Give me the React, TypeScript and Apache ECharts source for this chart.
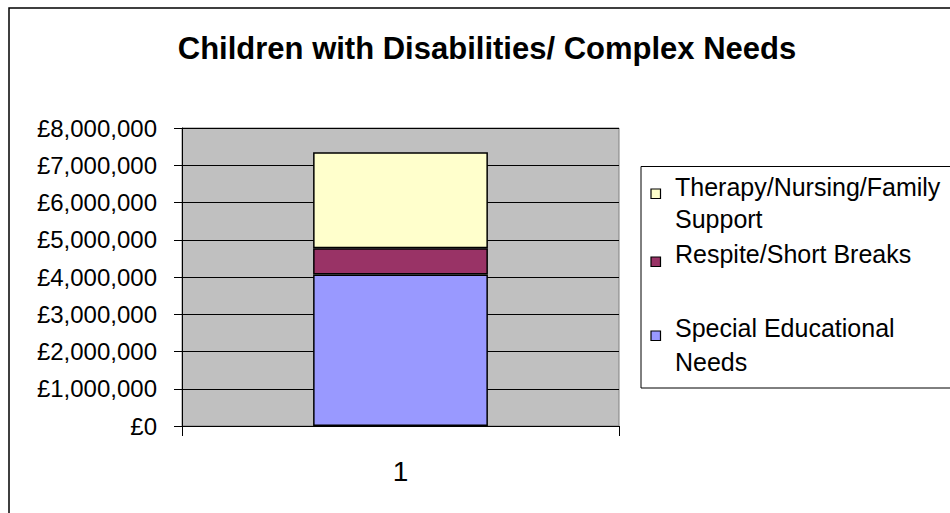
import React, { useEffect, useRef } from "react";
import * as echarts from "echarts";

// Budget split for the single category, stacked bottom to top
const categories = ["1"];
const seriesNames = [
  "Special Educational Needs",
  "Respite/Short Breaks",
  "Therapy/Nursing/Family Support",
];
const seriesValues = [[4070000], [700000], [2580000]];
const seriesColors = ["#9999FF", "#993366", "#FFFFCC"];

// Legend entries as wrapped lines, listed top to bottom (reverse of stacking)
const legendOrder = [2, 1, 0];
const legendLines = [
  ["Therapy/Nursing/Family", "Support"],
  ["Respite/Short Breaks"],
  ["Special Educational", "Needs"],
];

const yTicks = { min: 0, max: 8000000, interval: 1000000 };
const chartTitle = "Children with Disabilities/ Complex Needs";

const FONT = "'Liberation Sans', Arial, Helvetica, sans-serif";

export default function App() {
  const ref = useRef<HTMLDivElement>(null);

  useEffect(() => {
    if (!ref.current) return;
    const chart = echarts.init(ref.current, null, { renderer: "svg" });

    const legendIconY = [189, 257, 331];
    const legendTextY = [[187, 218.5], [253.5], [327.5, 361.5]];

    const legendChildren: any[] = [
      {
        type: "rect",
        shape: { x: 641, y: 166.5, width: 400, height: 221.5 },
        style: { fill: "#fff", stroke: "#000", lineWidth: 1 },
      },
    ];
    legendOrder.forEach((si, i) => {
      legendChildren.push({
        type: "rect",
        shape: { x: 651, y: legendIconY[i], width: 9.5, height: 9.5 },
        style: { fill: seriesColors[si], stroke: "#000", lineWidth: 1.2 },
      });
      legendLines[i].forEach((line, li) => {
        legendChildren.push({
          type: "text",
          x: 675,
          y: legendTextY[i][li],
          style: {
            text: line,
            fill: "#000",
            font: `25px ${FONT}`,
            align: "left",
            verticalAlign: "middle",
          },
        });
      });
    });

    chart.setOption({
      animation: false,
      backgroundColor: "#fff",
      title: {
        text: chartTitle,
        left: 482,
        top: 28,
        textAlign: "center",
        textStyle: {
          fontFamily: FONT,
          fontSize: 31,
          fontWeight: "bold",
          color: "#000",
        },
      },
      grid: {
        left: 182,
        right: 331,
        top: 128,
        bottom: 87,
        show: true,
        backgroundColor: "#C0C0C0",
        borderColor: "#808080",
        borderWidth: 1,
      },
      xAxis: {
        type: "category",
        data: categories,
        boundaryGap: true,
        axisLine: { show: true, lineStyle: { color: "#000", width: 1 } },
        axisTick: {
          show: true,
          alignWithLabel: false,
          length: 10,
          lineStyle: { color: "#000" },
        },
        axisLabel: {
          margin: 31,
          fontFamily: FONT,
          fontSize: 28,
          color: "#000",
        },
      },
      yAxis: {
        type: "value",
        min: yTicks.min,
        max: yTicks.max,
        interval: yTicks.interval,
        axisLine: { show: true, lineStyle: { color: "#000", width: 1 } },
        axisTick: { show: true, length: 8, lineStyle: { color: "#000" } },
        axisLabel: {
          margin: 25,
          fontFamily: FONT,
          fontSize: 24,
          color: "#000",
          formatter: (v: number) => "£" + v.toLocaleString("en-GB"),
        },
        splitLine: { show: true, lineStyle: { color: "#000", width: 1 } },
      },
      series: seriesNames.map((name, i) => ({
        name,
        type: "bar",
        stack: "total",
        barWidth: "40%",
        data: seriesValues[i],
        itemStyle: {
          color: seriesColors[i],
          borderColor: "#000",
          borderWidth: 1.5,
        },
      })),
      graphic: [
        {
          type: "rect",
          shape: { x: 9, y: 8, width: 1000, height: 600 },
          style: { fill: "none", stroke: "#000", lineWidth: 1.5 },
          z: 100,
        },
        { type: "group", children: legendChildren },
      ],
    });

    return () => chart.dispose();
  }, []);

  return (
    <div
      ref={ref}
      style={{ position: "fixed", left: 0, top: 0, width: 950, height: 513 }}
    />
  );
}
